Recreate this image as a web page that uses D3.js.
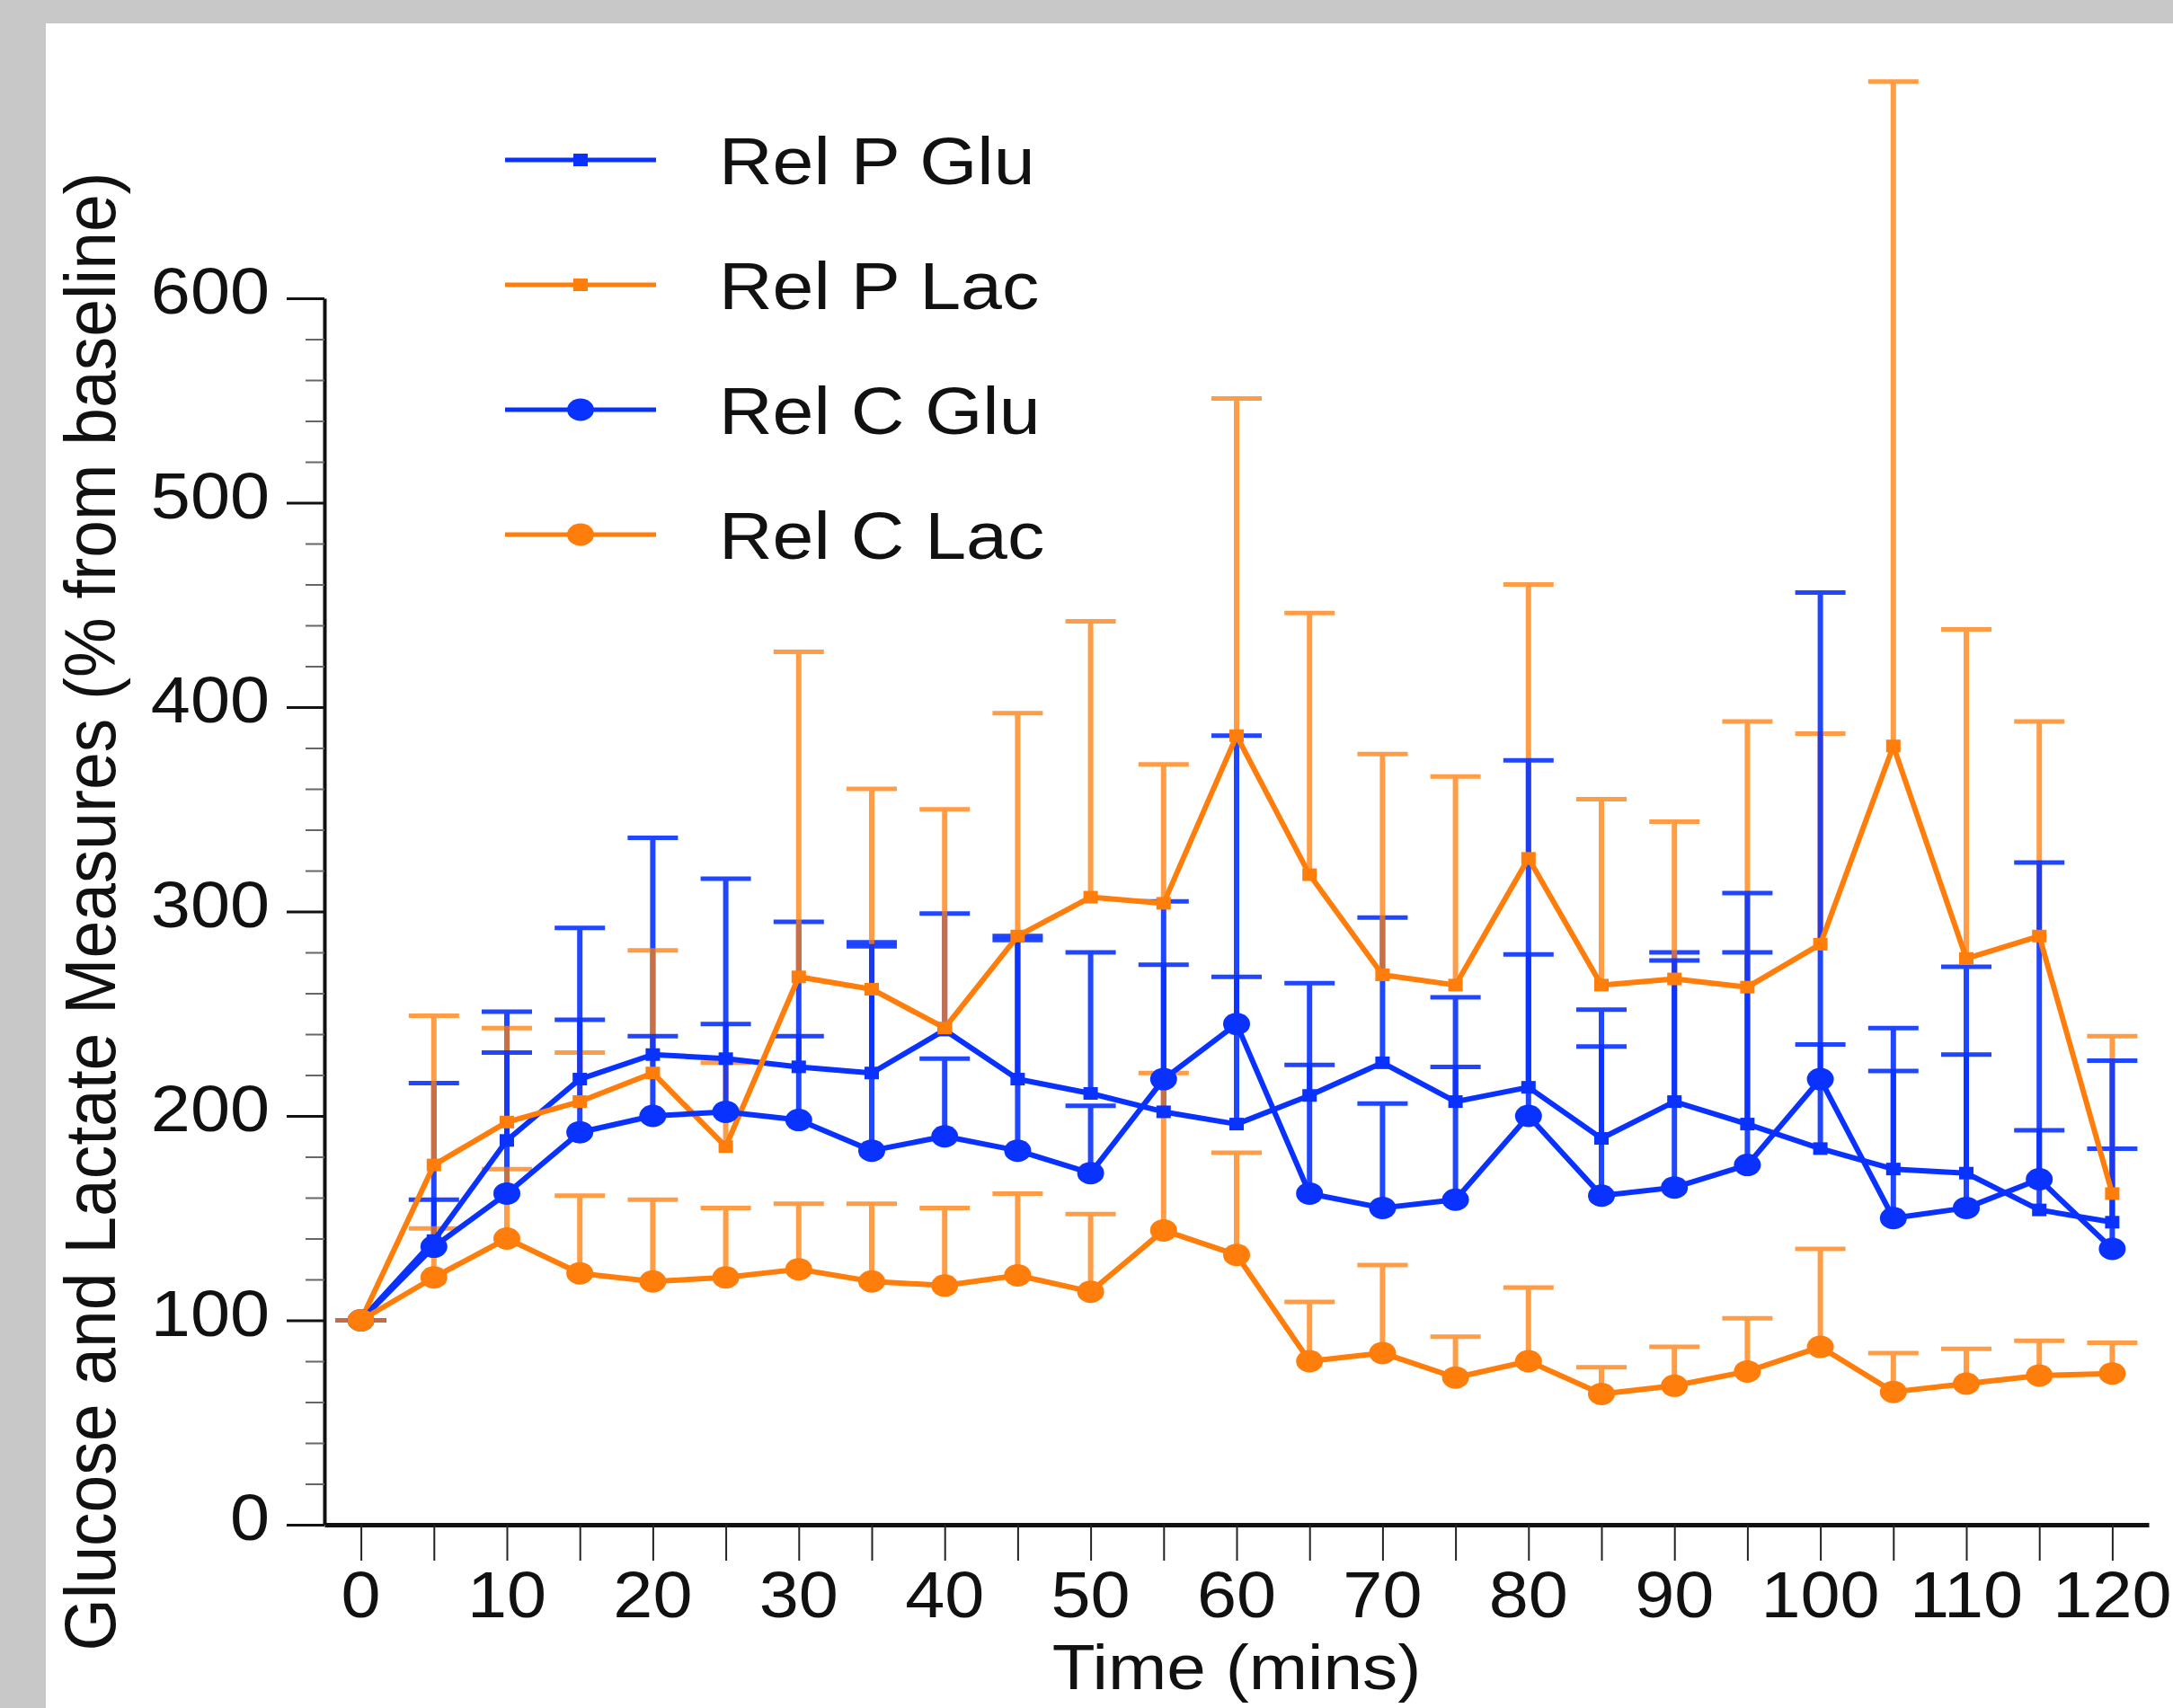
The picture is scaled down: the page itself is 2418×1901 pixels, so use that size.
<!DOCTYPE html>
<html>
<head>
<meta charset="utf-8">
<script src="https://cdn.jsdelivr.net/npm/d3@7/dist/d3.min.js"></script>
<style>
  body { margin: 0; background: #c8c8c8; }
  svg { display: block; }
  text { font-family: "Liberation Sans", Arial, Helvetica, sans-serif; fill: #111; }
</style>
</head>
<body>
<svg id="chart" width="2418" height="1901"></svg>
<script>
// values (% from baseline); "Top" = value + error bar
const times = [0, 5, 10, 15, 20, 25, 30, 35, 40, 45, 50, 55, 60, 65, 70, 75, 80, 85, 90, 95, 100, 105, 110, 115, 120]

const relPGlu    = [100, 139, 188, 218, 230, 228, 224, 221, 242, 218, 211, 202, 196, 210, 226, 207, 214, 189, 207, 196, 184, 174, 172, 154, 148]
const relPGluTop = [100, 216, 251, 292, 336, 316, 295, 285, 299, 288, 280, 274, 268, 265, 297, 258, 279, 252, 280, 280, 235, 243, 273, 193, 184]

const relPLac    = [100, 176, 197, 207, 221, 185, 268, 262, 243, 288, 307, 304, 386, 318, 269, 264, 326, 264, 267, 263, 284, 381, 277, 288, 162]
const relPLacTop = [100, 249, 243, 231, 281, 226, 427, 360, 350, 397, 442, 372, 551, 446, 377, 366, 460, 355, 344, 393, 387, 706, 438, 393, 239]

const relCGlu    = [100, 136, 162, 192, 200, 202, 198, 183, 190, 183, 172, 218, 245, 162, 155, 159, 200, 161, 165, 176, 218, 150, 155, 169, 135]
const relCGluTop = [100, 159, 231, 247, 239, 245, 239, 283, 228, 286, 205, 305, 386, 225, 206, 224, 374, 234, 276, 309, 456, 222, 230, 324, 227]

const relCLac    = [100, 121, 140, 123, 119, 121, 125, 119, 117, 122, 114, 144, 132, 80, 84, 72, 80, 64, 68, 75, 87, 65, 69, 73, 74]
const relCLacTop = [100, 145, 174, 161, 159, 155, 157, 157, 155, 162, 152, 221, 182, 109, 127, 92, 116, 77, 87, 101, 135, 84, 86, 90, 89]

const seriesNames = ['Rel P Glu', 'Rel P Lac', 'Rel C Glu', 'Rel C Lac']
const xTickLabels = [0, 10, 20, 30, 40, 50, 60, 70, 80, 90, 100, 110, 120]
const yTickLabels = [0, 100, 200, 300, 400, 500, 600]

const blue = '#0a32ff'
const orange = '#ff7d0a'

const series = [
  { name: seriesNames[0], vals: relPGlu, tops: relPGluTop, color: blue, marker: 'square', errOpacity: 0.9 },
  { name: seriesNames[1], vals: relPLac, tops: relPLacTop, color: orange, marker: 'square', errOpacity: 0.75 },
  { name: seriesNames[2], vals: relCGlu, tops: relCGluTop, color: blue, marker: 'circle', errOpacity: 0.9 },
  { name: seriesNames[3], vals: relCLac, tops: relCLacTop, color: orange, marker: 'circle', errOpacity: 0.75 },
]

const svg = d3.select('#chart')
const stretch = 1.1  // the source art is a bit wider than tall

// grey frame + white panel
svg.append('rect').attr('width', 2418).attr('height', 1901).attr('fill', '#c8c8c8')
svg.append('rect').attr('x', 51).attr('y', 26).attr('width', 2418 - 51).attr('height', 1901 - 26).attr('fill', '#fff')

const x = d3.scaleLinear().domain([-2.5, 122.5]).range([361, 2391])
const y = d3.scaleLinear().domain([0, 600]).range([1697, 332])

// y axis: minor then major ticks
const yMinor = svg.append('g').attr('transform', 'translate(361,0)')
  .call(d3.axisLeft(y).tickValues(d3.range(0, 601, 20)).tickSize(21).tickSizeOuter(0).tickFormat(''))
yMinor.selectAll('.tick line').attr('stroke', '#666').attr('stroke-width', 2)
yMinor.select('.domain').attr('stroke', '#111').attr('stroke-width', 4)

const yMajor = svg.append('g').attr('transform', 'translate(361,0)')
  .call(d3.axisLeft(y).tickValues(yTickLabels).tickSize(42).tickSizeOuter(0).tickPadding(0).tickFormat(''))
yMajor.select('.domain').remove()
yMajor.selectAll('.tick line').attr('stroke', '#111').attr('stroke-width', 3)

yTickLabels.forEach(v => {
  svg.append('g').attr('transform', `translate(300,${y(v) + 17}) scale(${stretch},1)`)
    .append('text').attr('text-anchor', 'end').attr('font-size', 72).text(v)
})

// x axis
const xAxis = svg.append('g').attr('transform', 'translate(0,1697)')
  .call(d3.axisBottom(x).tickValues(times).tickSize(40).tickSizeOuter(0).tickFormat(''))
xAxis.select('.domain').attr('stroke', '#111').attr('stroke-width', 5)
xAxis.selectAll('.tick line').attr('stroke', '#222').attr('stroke-width', 2)

xTickLabels.forEach(t => {
  svg.append('g').attr('transform', `translate(${x(t)},1800) scale(${stretch},1)`)
    .append('text').attr('text-anchor', 'middle').attr('font-size', 72).text(t)
})

svg.append('g').attr('transform', `translate(${x(60)},1880) scale(1.12,1)`)
  .append('text').attr('text-anchor', 'middle').attr('font-size', 70).text('Time (mins)')

svg.append('g').attr('transform', `translate(128,${(y(0) + y(600)) / 2}) scale(1.05,1) rotate(-90)`)
  .append('text').attr('text-anchor', 'middle').attr('font-size', 75)
  .text('Glucose and Lactate Measures (% from baseline)')

// error bars
const capHalf = 28
series.forEach(s => {
  const g = svg.append('g').attr('stroke', s.color).attr('opacity', s.errOpacity)
  times.forEach((t, i) => {
    g.append('line').attr('x1', x(t)).attr('x2', x(t)).attr('y1', y(s.vals[i])).attr('y2', y(s.tops[i]))
      .attr('stroke-width', 6)
    g.append('line').attr('x1', x(t) - capHalf).attr('x2', x(t) + capHalf)
      .attr('y1', y(s.tops[i])).attr('y2', y(s.tops[i])).attr('stroke-width', 5)
  })
})

// lines and markers
const line = d3.line().x((d, i) => x(times[i])).y(d => y(d))
const drawMarker = (g, kind, cx, cy, color) => {
  if (kind === 'square') {
    g.append('rect').attr('x', cx - 8).attr('y', cy - 7).attr('width', 16).attr('height', 14).attr('fill', color)
  } else {
    g.append('ellipse').attr('cx', cx).attr('cy', cy).attr('rx', 15).attr('ry', 12.5).attr('fill', color)
  }
}

series.forEach(s => {
  svg.append('path').attr('d', line(s.vals)).attr('fill', 'none')
    .attr('stroke', s.color).attr('stroke-width', 6).attr('stroke-linejoin', 'round')
  const g = svg.append('g')
  times.forEach((t, i) => drawMarker(g, s.marker, x(t), y(s.vals[i]), s.color))
})

// legend
const legendRows = [178, 317, 456, 595]
series.forEach((s, i) => {
  const ly = legendRows[i]
  svg.append('line').attr('x1', 562).attr('x2', 730).attr('y1', ly).attr('y2', ly)
    .attr('stroke', s.color).attr('stroke-width', 5)
  drawMarker(svg, s.marker, 646, ly, s.color)
  svg.append('g').attr('transform', `translate(800,${ly + 27}) scale(${stretch},1)`)
    .append('text').attr('font-size', 75).text(s.name)
})
</script>
</body>
</html>
